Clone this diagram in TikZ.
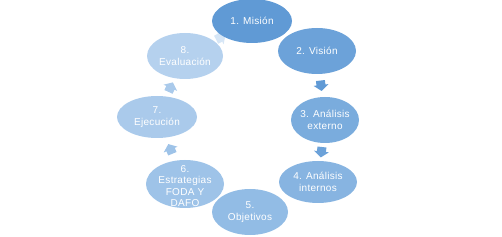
\documentclass[tikz,border=0pt]{standalone}
\usepackage{fontspec}
\setmainfont{Liberation Sans}[LetterSpace=3]
\usetikzlibrary{shapes.geometric,decorations.markings}
\definecolor{c1}{RGB}{96,154,213}
\definecolor{c2}{RGB}{108,162,217}
\definecolor{c3}{RGB}{122,172,221}
\definecolor{c4}{RGB}{135,180,225}
\definecolor{c5}{RGB}{146,188,229}
\definecolor{c6}{RGB}{158,195,232}
\definecolor{c7}{RGB}{170,202,235}
\definecolor{c8}{RGB}{181,209,238}
\tikzset{
  ell/.style={ellipse, draw=none, inner sep=0pt},
  txt/.style={align=center, text=white, inner sep=0pt,
    font=\fontsize{10}{11.5}\selectfont},
  blockarrow/.style 2 args={postaction={decorate}, decoration={markings,
    mark=at position #2 with {\fill[#1] (-5,-4.5) -- (-0.5,-4.5) -- (-0.5,-7.5)
      -- (5.5,0) -- (-0.5,7.5) -- (-0.5,4.5) -- (-5,4.5) -- cycle;}}}
}
\begin{document}
\begin{tikzpicture}[x=1pt,y=-1pt]
\useasboundingbox (0,0) rectangle (502,237);
% ellipse anchors
\node[ell, minimum width=80pt, minimum height=44pt] (n1) at (252,21) {};
\node[ell, minimum width=78pt, minimum height=46pt] (n2) at (317,51) {};
\node[ell, minimum width=68pt, minimum height=46pt] (n3) at (325,120) {};
\node[ell, minimum width=78pt, minimum height=42pt] (n4) at (318,182) {};
\node[ell, minimum width=76pt, minimum height=46pt] (n5) at (250,212) {};
\node[ell, minimum width=78pt, minimum height=48pt] (n6) at (185,184) {};
\node[ell, minimum width=80pt, minimum height=42pt] (n7) at (157,117) {};
\node[ell, minimum width=76pt, minimum height=46pt] (n8) at (185,56) {};
% arrows
\path[blockarrow={c1}{0.5}] (n2) -- (n3);
\path[blockarrow={c2}{0.5}] (n3) -- (n4);
\path[blockarrow={c6}{0.5}] (n6) -- (n7);
\path[blockarrow={c7}{0.5}] (n7) -- (n8);
\path[blockarrow={c8!55!white}{0.75}] (n8) -- (n1);
% filled ellipses
\fill[c1] (n1.center) ellipse [x radius=40pt, y radius=22pt];
\fill[c2] (n2.center) ellipse [x radius=39pt, y radius=23pt];
\fill[c3] (n3.center) ellipse [x radius=34pt, y radius=23pt];
\fill[c4] (n4.center) ellipse [x radius=39pt, y radius=21pt];
\fill[c5] (n5.center) ellipse [x radius=38pt, y radius=23pt];
\fill[c6] (n6.center) ellipse [x radius=39pt, y radius=24pt];
\fill[c7] (n7.center) ellipse [x radius=40pt, y radius=21pt];
\fill[c8] (n8.center) ellipse [x radius=38pt, y radius=23pt];
% texts
\node[txt] (t1) at (n1) {1. Misión};
\node[txt] (t2) at (n2) {2. Visión};
\node[txt] (t3) at (n3) {3. Análisis\\externo};
\node[txt] (t4) at (n4) {4. Análisis\\internos};
\node[txt] (t5) at (n5) {5.\\Objetivos};
\node[txt] (t6) at ([yshift=-2pt]n6.center) {6.\\Estrategias\\FODA Y\\DAFO};
\node[txt] (t7) at (n7) {7.\\Ejecución};
\node[txt] (t8) at (n8) {8.\\Evaluación};
\end{tikzpicture}
\end{document}
